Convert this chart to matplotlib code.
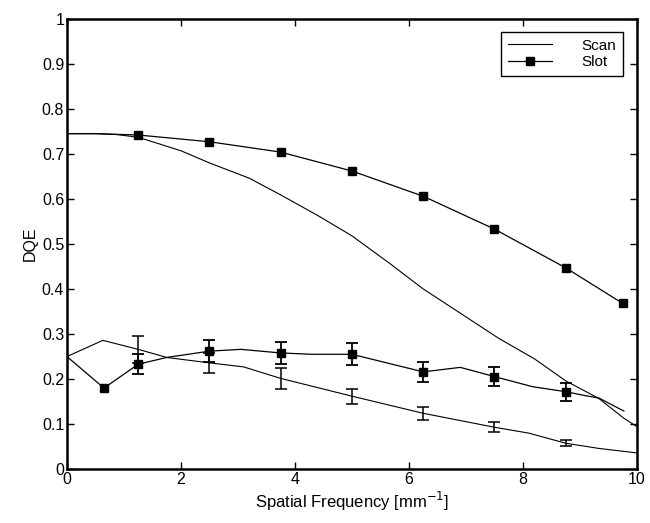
import matplotlib
matplotlib.use("Agg")
import matplotlib.pyplot as plt
import numpy as np

plt.rcParams["font.family"] = ["Liberation Sans", "DejaVu Sans"]

# upper pair: Scan (no markers) and Slot (squares)
scan_hi_x = [0, 0.5, 0.87, 1.25, 2.0, 2.5, 3.2, 3.75, 4.43, 5.0, 5.66, 6.24, 6.82, 7.58, 8.2, 8.75, 9.33, 9.77, 10]
scan_hi_y = [0.745, 0.745, 0.743, 0.737, 0.707, 0.680, 0.646, 0.609, 0.561, 0.518, 0.457, 0.401, 0.353, 0.290, 0.245, 0.196, 0.157, 0.113, 0.094]

slot_hi_x = [0, 0.5, 1.25, 2.5, 3.75, 5.0, 6.25, 7.5, 8.75, 9.75]
slot_hi_y = [0.745, 0.745, 0.742, 0.727, 0.704, 0.662, 0.606, 0.533, 0.447, 0.368]
slot_hi_marks = [2, 3, 4, 5, 6, 7, 8, 9]

# lower pair, with error bars (nan = no bar)
nan = np.nan
scan_lo_x = [0, 0.63, 1.25, 1.75, 2.5, 3.1, 3.75, 5.0, 6.25, 7.5, 8.1, 8.75, 9.33, 10]
scan_lo_y = [0.25, 0.286, 0.266, 0.248, 0.236, 0.227, 0.2015, 0.162, 0.124, 0.093, 0.08, 0.0575, 0.046, 0.036]
scan_lo_err = [nan, nan, 0.030, nan, 0.022, nan, 0.0225, 0.017, 0.014, 0.011, nan, 0.0065, nan, nan]

slot_lo_x = [0, 0.65, 1.25, 1.75, 2.5, 3.05, 3.75, 4.3, 5.0, 6.25, 6.9, 7.5, 8.17, 8.75, 9.1, 9.33, 9.77]
slot_lo_y = [0.25, 0.18, 0.233, 0.248, 0.262, 0.266, 0.258, 0.255, 0.255, 0.216, 0.226, 0.2055, 0.183, 0.172, 0.163, 0.158, 0.129]
slot_lo_err = [nan, nan, 0.022, nan, 0.025, nan, 0.025, nan, 0.024, 0.022, nan, 0.0215, nan, 0.02, nan, nan, nan]
slot_lo_marks = [1, 2, 4, 6, 8, 9, 11, 13]

fig = plt.figure(figsize=(6.5, 5.23), dpi=100)
ax = fig.add_axes([0.103, 0.103, 0.877, 0.861])

mk = dict(marker="s", markersize=6, markerfacecolor="k", markeredgecolor="k")

scan_line, = ax.plot(scan_hi_x, scan_hi_y, color="k", lw=0.8, label="Scan")
slot_line, = ax.plot(slot_hi_x, slot_hi_y, color="k", lw=0.9, markevery=slot_hi_marks, label="Slot", **mk)

ax.errorbar(scan_lo_x, scan_lo_y, yerr=scan_lo_err, color="k", lw=0.8,
            elinewidth=1.1, capsize=4, capthick=1.1)
ax.errorbar(slot_lo_x, slot_lo_y, yerr=slot_lo_err, color="k", lw=0.9,
            elinewidth=1.3, capsize=4, capthick=1.3, markevery=slot_lo_marks, **mk)

ax.set_xlim(0, 10)
ax.set_ylim(0, 1)
ax.set_xticks(np.arange(0, 11, 2))
ax.set_yticks(np.arange(0, 1.01, 0.1))
ax.set_yticklabels(["0", "0.1", "0.2", "0.3", "0.4", "0.5", "0.6", "0.7", "0.8", "0.9", "1"])
ax.tick_params(direction="in", top=True, right=True, length=5, width=1, labelsize=11.5, pad=2)
for s in ax.spines.values():
    s.set_linewidth(1.8)

ax.set_xlabel("Spatial Frequency [mm$^{-1}$]", fontsize=12, labelpad=2)
ax.set_ylabel("DQE", fontsize=11.5, labelpad=3)

leg = ax.legend(handles=[scan_line, slot_line], loc="upper right",
                bbox_to_anchor=(0.975, 0.971), borderaxespad=0, fontsize=11,
                fancybox=False, framealpha=1, edgecolor="k", numpoints=1,
                handlelength=2.9, handletextpad=1.9, labelspacing=0.15, borderpad=0.45)
leg.get_frame().set_linewidth(1.0)

fig.savefig("out.png", dpi=100)
